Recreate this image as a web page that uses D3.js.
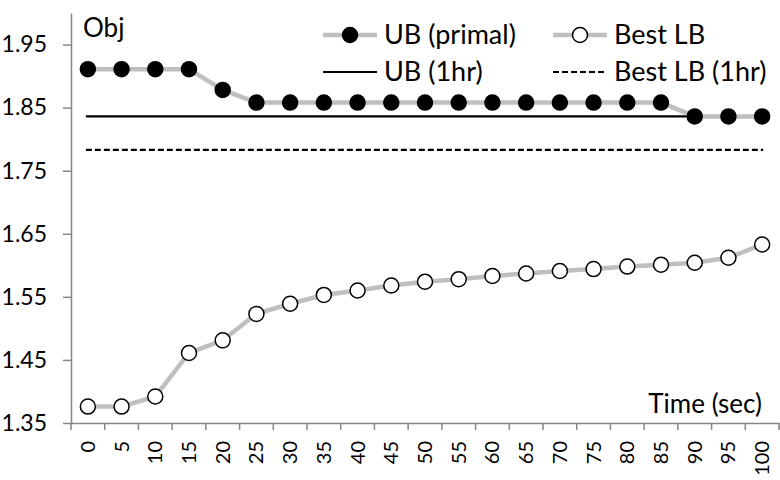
<!DOCTYPE html>
<html lang="en">
<head>
    <meta charset="UTF-8">
    <title>UB / LB over time</title>
    <script src="https://d3js.org/d3.v7.min.js"></script>
    <style>
        body { margin: 0; background: #fff; }
        svg text { font-family: Lato, "Open Sans", sans-serif; fill: #000; }
    </style>
</head>
<body>
    <div id="chart"></div>

    <script>
        // categories (seconds)
        const times = ["0","5","10","15","20","25","30","35","40","45","50","55","60","65","70","75","80","85","90","95","100"];
        // UB (primal) per time step
        const ubPrimal = [1.911,1.911,1.911,1.911,1.878,1.858,1.858,1.858,1.858,1.858,1.858,1.858,1.858,1.858,1.858,1.858,1.858,1.858,1.836,1.836,1.836];
        // Best LB per time step
        const bestLB = [1.376,1.376,1.392,1.461,1.481,1.523,1.539,1.553,1.560,1.568,1.574,1.578,1.583,1.587,1.591,1.594,1.598,1.601,1.604,1.612,1.633];
        // reference values after 1hr
        const ub1hr = 1.836;
        const bestLB1hr = 1.783;
        const yTicks = [1.35,1.45,1.55,1.65,1.75,1.85,1.95];

        const width = 780, height = 480;
        const plotLeft = 71, plotRight = 779, plotTop = 13, plotBottom = 423;

        const svg = d3.select("#chart")
            .append("svg")
            .attr("width", width)
            .attr("height", height);

        const x = d3.scaleBand()
            .domain(times)
            .range([plotLeft, plotRight])
            .padding(0);

        const y = d3.scaleLinear()
            .domain([1.35, 2.0])
            .range([plotBottom, plotTop]);

        const axisColor = "#868686";

        // y axis
        const yAxis = svg.append("g")
            .attr("transform", `translate(${plotLeft},0)`)
            .call(d3.axisLeft(y).tickValues(yTicks).tickFormat(d3.format(".2f")).tickSize(8).tickSizeOuter(0));
        yAxis.select(".domain").attr("stroke", axisColor).attr("stroke-width", 1.5);
        yAxis.selectAll(".tick line").attr("stroke", axisColor).attr("stroke-width", 1.5);
        yAxis.selectAll(".tick text")
            .attr("x", -24)
            .style("font-size", "23px")
            .style("font-family", "Lato, sans-serif")
            .attr("fill", "#000");

        // x axis labels
        const xAxis = svg.append("g")
            .attr("transform", `translate(0,${plotBottom})`)
            .call(d3.axisBottom(x).tickSize(0).tickSizeOuter(0));
        xAxis.select(".domain").attr("stroke", axisColor).attr("stroke-width", 1.5);
        xAxis.selectAll(".tick text")
            .attr("transform", "rotate(-90)")
            .attr("text-anchor", "end")
            .attr("x", -18)
            .attr("y", 0)
            .attr("dy", "0.35em")
            .style("font-size", "20px")
            .style("font-family", "Lato, sans-serif")
            .attr("fill", "#000");

        // x tick marks between categories
        const bounds = times.map(t => x(t)).concat([x(times[times.length - 1]) + x.bandwidth()]);
        xAxis.selectAll(".btick")
            .data(bounds)
            .enter()
            .append("line")
            .attr("x1", d => d).attr("x2", d => d)
            .attr("y1", 0).attr("y2", 7)
            .attr("stroke", axisColor)
            .attr("stroke-width", 1.5);

        const cx = t => x(t) + x.bandwidth() / 2;

        // 1hr reference lines
        svg.append("line")
            .attr("x1", cx(times[0]) - 2).attr("x2", cx(times[times.length - 1]) + 3)
            .attr("y1", y(ub1hr)).attr("y2", y(ub1hr))
            .attr("stroke", "#000").attr("stroke-width", 2.2);
        svg.append("line")
            .attr("x1", cx(times[0]) - 2).attr("x2", cx(times[times.length - 1]) + 1)
            .attr("y1", y(bestLB1hr)).attr("y2", y(bestLB1hr))
            .attr("stroke", "#000").attr("stroke-width", 2.2)
            .attr("stroke-dasharray", "6,3");

        const line = d3.line()
            .x((d, i) => cx(times[i]))
            .y(d => y(d));

        function drawSeries(values, fill) {
            svg.append("path")
                .datum(values)
                .attr("d", line)
                .attr("fill", "none")
                .attr("stroke", "#bfbfbf")
                .attr("stroke-width", 4.5);
            svg.selectAll(null)
                .data(values)
                .enter()
                .append("circle")
                .attr("cx", (d, i) => cx(times[i]))
                .attr("cy", d => y(d))
                .attr("r", 7.5)
                .attr("fill", fill)
                .attr("stroke", "#000")
                .attr("stroke-width", 1.5);
        }

        drawSeries(bestLB, "#fff");
        drawSeries(ubPrimal, "#000");

        // axis titles
        svg.append("text")
            .attr("x", 83).attr("y", 37)
            .style("font-size", "26px")
            .text("Obj");
        svg.append("text")
            .attr("x", 762).attr("y", 413)
            .attr("text-anchor", "end")
            .style("font-size", "26px")
            .text("Time (sec)");

        // legend
        const legend = [
            { label: "UB (primal)", x: 323, y: 35, kind: "marker", fill: "#000" },
            { label: "Best LB", x: 553, y: 35, kind: "marker", fill: "#fff" },
            { label: "UB (1hr)", x: 323, y: 72, kind: "solid" },
            { label: "Best LB (1hr)", x: 553, y: 72, kind: "dashed" }
        ];
        const lg = svg.selectAll(".legend")
            .data(legend)
            .enter()
            .append("g")
            .attr("transform", d => `translate(${d.x},${d.y})`);
        lg.append("line")
            .attr("x1", 0).attr("x2", 54)
            .attr("y1", 0).attr("y2", 0)
            .attr("stroke", d => d.kind === "marker" ? "#bfbfbf" : "#000")
            .attr("stroke-width", d => d.kind === "marker" ? 4.5 : 2.2)
            .attr("stroke-dasharray", d => d.kind === "dashed" ? "6,3" : null);
        lg.filter(d => d.kind === "marker")
            .append("circle")
            .attr("cx", 27).attr("cy", 0).attr("r", 7.5)
            .attr("fill", d => d.fill)
            .attr("stroke", "#000").attr("stroke-width", 1.5);
        lg.append("text")
            .attr("x", 61).attr("y", 0)
            .attr("dy", "0.35em")
            .style("font-size", "27px")
            .text(d => d.label);
    </script>
</body>
</html>
